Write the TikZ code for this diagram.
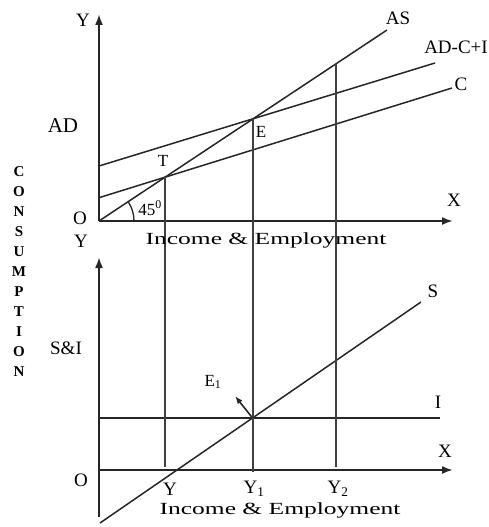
\documentclass[tikz,border=0pt]{standalone}
\usepackage{fontspec}
\setmainfont{Liberation Serif}
\usetikzlibrary{arrows.meta,intersections}
\begin{document}
\begin{tikzpicture}[x=1pt,y=-1pt,
  curve/.style={line width=1.5pt,black!85},
  axis/.style={line width=1.9pt,black!85,-{Latex[length=11pt,width=8pt]}},
  vline/.style={line width=1.5pt,black!75},
  big/.style={inner sep=0pt,font=\fontsize{19}{19}\selectfont},
  small/.style={inner sep=0pt,font=\fontsize{17}{17}\selectfont},
  title/.style={inner sep=0pt,font=\fontsize{17}{17}\selectfont,xscale=1.5},
  vert/.style={inner sep=0pt,font=\fontsize{15}{15}\selectfont\bfseries}]
\useasboundingbox (0,0) rectangle (488,527);
% ---------- top panel ----------
\coordinate (O1) at (99,221);
\coordinate (Ytop) at (99,14);
\coordinate (Xtop) at (453,221);
\coordinate (AStop) at (387,30);
\coordinate (ADl) at (99,166);
\coordinate (ADr) at (435,63);
\coordinate (Cl) at (99,197.7);
\coordinate (Cr) at (452,88);
\draw[axis] (O1) -- (Ytop);
\draw[axis] (O1) -- (Xtop);
\draw[curve,name path=AS] (O1) -- (AStop);
\draw[curve,name path=AD] (ADl) -- (ADr);
\draw[curve,name path=C] (Cl) -- (Cr);
\path[name path=V1] (165,0) -- (165,527);
\path[name path=V2] (253,0) -- (253,527);
\path[name path=V3] (336,0) -- (336,527);
\path[name intersections={of=AS and V1,by=T}];
\path[name intersections={of=AS and V2,by=E}];
\path[name intersections={of=AS and V3,by=P3}];
\draw[line width=1.3pt,black!85] (134,221) arc[start angle=0,end angle=-33.5,radius=35];
% ---------- bottom panel ----------
\coordinate (O2) at (99,470);
\coordinate (Ybot) at (99,257);
\coordinate (Ybotend) at (99,517);
\coordinate (Xbot) at (453,470);
\coordinate (Il) at (99,418);
\coordinate (Ir) at (440,418);
\coordinate (Sl) at (100,523);
\coordinate (Sr) at (421,302);
\coordinate (E1tip) at (235,396);
\draw[axis] (Ybotend) -- (Ybot);
\draw[axis] (O2) -- (Xbot);
\draw[curve,line width=1.4pt,name path=I] (Il) -- (Ir);
\draw[curve,name path=S] (Sl) -- (Sr);
\path[name intersections={of=S and I,by=E1}];
\draw[line width=1.6pt,black!85,-{Latex[length=8pt,width=6pt]}] (E1) -- (E1tip);
% ---------- verticals ----------
\coordinate (Tb) at (T|-0,467);
\coordinate (Eb) at (E|-0,472);
\coordinate (P3b) at (P3|-0,467);
\draw[vline] (T) -- (Tb);
\draw[vline] (E) -- (Eb);
\draw[vline] (P3) -- (P3b);
% ---------- labels top ----------
\node[big] (lY) at (83,20) {Y};
\node[big] (lX) at (454,200) {X};
\node[big] (lAS) at (398,18) {AS};
\node[big] (lADCI) at (456,47) {AD-C+I};
\node[big] (lC) at (461,84) {C};
\node[big,font=\fontsize{21}{21}\selectfont] (lAD) at (63,126) {AD};
\node[small] (lT) at (163,161) {T};
\node[small] (lE) at (261,132) {E};
\node[small] (l45) at (150,208) {45\textsuperscript{0}};
\node[big] (lO1) at (80,218) {O};
\node[big] (lYmid) at (81,241) {Y};
\node[title] (inc1) at (266,240) {Income \& Employment};
% ---------- consumption ----------
\foreach \ch [count=\i from 0] in {C,O,N,S,U,M,P,T,I,O,N}
  \node[vert] (cons\i) at (19,172+20*\i) {\ch};
% ---------- labels bottom ----------
\node[big] (lSI) at (66,348) {S\&I};
\node[small] (lE1) at (213,382) {E\textsubscript{1}};
\node[big] (lS) at (433,291) {S};
\node[big] (lI) at (438,402) {I};
\node[big] (lX2) at (445,451) {X};
\node[big] (lO2) at (81,480) {O};
\node[big] (lYa) at (170,489) {Y};
\node[big] (lYb) at (254,489) {Y\textsubscript{1}};
\node[big] (lYc) at (338,489) {Y\textsubscript{2}};
\node[title] (inc2) at (280,510) {Income \& Employment};
\end{tikzpicture}
\end{document}
